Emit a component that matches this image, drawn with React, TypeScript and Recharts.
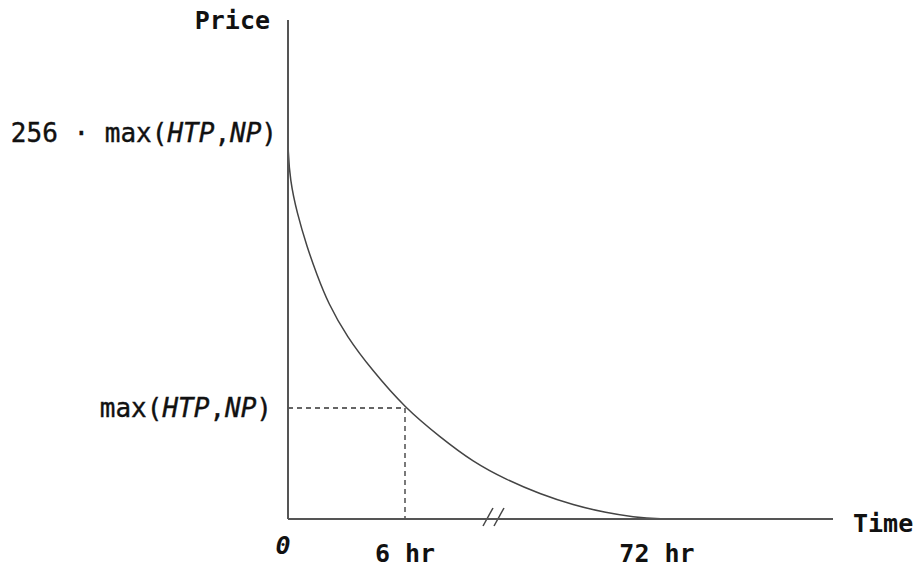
import React from 'react';
import { LineChart, Line, XAxis, YAxis, ReferenceLine, Label } from 'recharts';

// schematic units: roughly one unit per pixel of the plot area
const timeDomain = [0, 545];
const priceDomain = [0, 499];

const curveTime = [0, 0, 2, 9, 19, 29, 40, 59, 84, 117, 152, 185, 219, 252, 285, 319, 345, 372, 402];
const curvePrice = [384, 370, 339, 306, 272, 244, 216, 182, 149, 111, 82, 57, 39, 25, 14, 6, 2, 0, 0];

const xTicks = [0, 117, 369];
const xTickLabels = ['0', '6 hr', '72 hr'];
const yTicks = [111, 386];

// guide at 6 hr / max(HTP,NP)
const guideTime = 117;
const guidePrice = 111;

// the "//" break on the time axis
const breakMarks = [
  [{ x: 195, y: -7 }, { x: 205, y: 11 }],
  [{ x: 206, y: -7 }, { x: 216, y: 11 }],
];

const data = curveTime.map((t, i) => ({ t, p: curvePrice[i] }));

const FONT = '"DejaVu Sans Mono", monospace';
const INK = '#111';
const AXIS = '#555';

const XTick = (props: any) => {
  const { x, y, payload } = props;
  const idx = xTicks.indexOf(payload.value);
  const label = xTickLabels[idx];
  if (idx === 0) {
    return (
      <text x={x - 5} y={y + 27} textAnchor="middle" fontFamily={FONT} fontSize={25}
        fontStyle="italic" fontWeight="bold" fill={INK}>{label}</text>
    );
  }
  return (
    <text x={x} y={y + 35} textAnchor="middle" fontFamily={FONT} fontSize={25}
      fontWeight="bold" fill={INK}>{label}</text>
  );
};

const YTick = (props: any) => {
  const { x, y, payload } = props;
  const top = payload.value === yTicks[1];
  return (
    <text x={top ? x - 3 : x - 8} y={y} dy={9} textAnchor="end" fontFamily={FONT}
      fontSize={26} fill={INK} stroke={INK} strokeWidth={0.4}>
      {top ? '256 \u00b7 ' : ''}max(<tspan fontStyle="italic">HTP</tspan>,<tspan fontStyle="italic">NP</tspan>)
    </text>
  );
};

const App = () => {
  return (
    <div style={{ position: 'absolute', left: 0, top: 0, background: '#fff' }}>
      <LineChart width={916} height={567} data={data}
        margin={{ top: 20, right: 83, bottom: 0, left: 0 }}>
        <XAxis type="number" dataKey="t" domain={timeDomain} ticks={xTicks} tick={<XTick />}
          tickLine={false} axisLine={{ stroke: AXIS, strokeWidth: 2 }} height={48}
          allowDataOverflow>
          <Label content={(p: any) => (
            <text x={p.viewBox.x + p.viewBox.width + 20} y={532} fontFamily={FONT} fontSize={25}
              fontWeight="bold" fill={INK}>Time</text>
          )} />
        </XAxis>
        <YAxis type="number" domain={priceDomain} ticks={yTicks} tick={<YTick />}
          tickLine={false} axisLine={{ stroke: AXIS, strokeWidth: 2 }} width={288}
          allowDataOverflow>
          <Label content={(p: any) => (
            <text x={270} y={p.viewBox.y + 9} textAnchor="end" fontFamily={FONT} fontSize={25}
              fontWeight="bold" fill={INK}>Price</text>
          )} />
        </YAxis>
        <ReferenceLine segment={[{ x: 0, y: guidePrice }, { x: guideTime, y: guidePrice }]}
          stroke="#333" strokeWidth={1.3} strokeDasharray="5 4" ifOverflow="visible" />
        <ReferenceLine segment={[{ x: guideTime, y: guidePrice }, { x: guideTime, y: 0 }]}
          stroke="#333" strokeWidth={1.3} strokeDasharray="5 4" ifOverflow="visible" />
        {breakMarks.map((seg, i) => (
          <ReferenceLine key={i} segment={seg} stroke="#444" strokeWidth={1.5} ifOverflow="visible" />
        ))}
        <Line type="basis" dataKey="p" stroke="#444" strokeWidth={1.5} dot={false}
          isAnimationActive={false} />
      </LineChart>
    </div>
  );
};

export default App;
